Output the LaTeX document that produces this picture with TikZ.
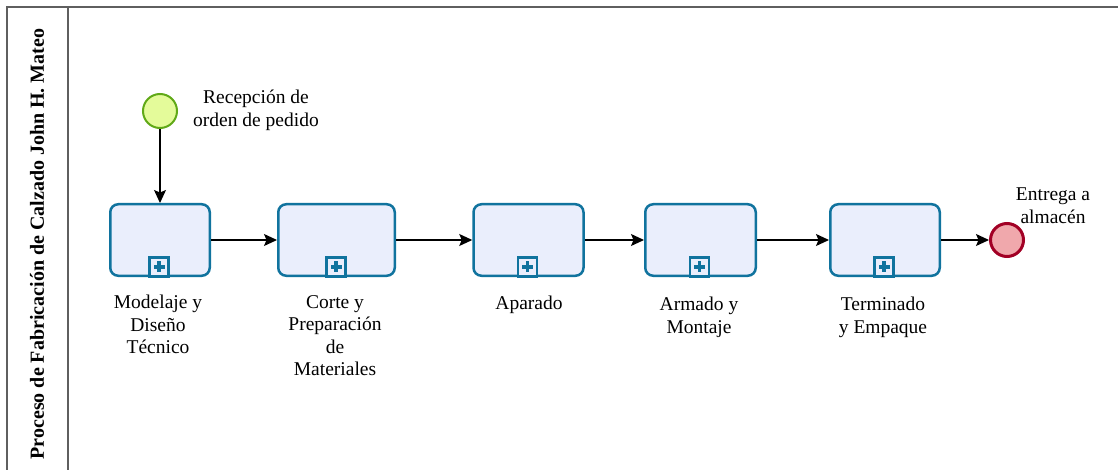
\documentclass[tikz,border=0pt]{standalone}
\usepackage{fontspec}
\setmainfont{Liberation Serif}
\usetikzlibrary{arrows.meta}
\definecolor{taskfill}{HTML}{EAEEFC}
\definecolor{taskline}{HTML}{10739E}
\definecolor{startfill}{HTML}{E4FB9A}
\definecolor{startline}{HTML}{60A917}
\definecolor{endfill}{HTML}{F0A8AC}
\definecolor{endline}{HTML}{A20025}
\definecolor{poolline}{HTML}{5F5F5F}
\begin{document}
\begin{tikzpicture}[x=1pt,y=-1pt,
  task/.style={draw=taskline, fill=taskfill, line width=2.5pt, rounded corners=8pt,
    minimum height=71.5pt, inner sep=0pt},
  marker/.style={draw=taskline, fill=taskfill, line width=2.2pt, minimum size=19pt,
    inner sep=0pt, anchor=south,
    path picture={
      \fill[taskline] ([xshift=-5.5pt,yshift=-1.9pt]path picture bounding box.center)
        rectangle ([xshift=5.5pt,yshift=1.9pt]path picture bounding box.center);
      \fill[taskline] ([xshift=-1.9pt,yshift=-5.5pt]path picture bounding box.center)
        rectangle ([xshift=1.9pt,yshift=5.5pt]path picture bounding box.center);}},
  lbl/.style={font=\fontsize{19.5}{22.5}\selectfont, align=center, inner sep=0pt, anchor=north},
  flow/.style={draw=black, line width=1.2pt, -{Stealth[length=13pt,width=12pt,inset=2.5pt]}},
  pool/.style={draw=poolline, line width=1.5pt},
  startev/.style={circle, draw=startline, fill=startfill, line width=2pt, minimum size=34pt, inner sep=0pt},
  endev/.style={circle, draw=endline, fill=endfill, line width=3pt, minimum size=33pt, inner sep=0pt}
]
\useasboundingbox (0,0) rectangle (1118,470);
\fill[white] (0,0) rectangle (1118,470);

% pool and lane
\draw[pool] (1118,7) -- (7,7) -- (7,470);
\draw[pool] (68,7) -- (68,470);
\node[rotate=90, font=\bfseries\fontsize{20}{24}\selectfont, inner sep=0pt] (lane) at (37,244)
  {Proceso de Fabricación de Calzado John H. Mateo};

% events
\node[startev] (start) at (160,111) {};
\node[lbl] (startlbl) at (256,90) {Recepción de\\orden de pedido};
\node[endev] (end) at (1007,240) {};
\node[lbl] (endlbl) at (1053,188) {Entrega a\\almacén};

% tasks
\node[task, minimum width=99.5pt] (t1) at (160,240) {};
\node[task, minimum width=116.5pt] (t2) at (336.5,240) {};
\node[task, minimum width=110pt] (t3) at (528.5,240) {};
\node[task, minimum width=110.5pt] (t4) at (700.5,240) {};
\node[task, minimum width=109.5pt] (t5) at (885,240) {};

\node[marker] (m1) at ([xshift=-1pt,yshift=-0.5pt]t1.south) {};
\node[marker] (m2) at ([xshift=-0.5pt,yshift=-0.5pt]t2.south) {};
\node[marker] (m3) at ([xshift=-1pt,yshift=-0.5pt]t3.south) {};
\node[marker] (m4) at ([xshift=-1pt,yshift=-0.5pt]t4.south) {};
\node[marker] (m5) at ([xshift=-1pt,yshift=-0.5pt]t5.south) {};

% task labels
\node[lbl] (l1) at (158,295) {Modelaje y\\Diseño\\Técnico};
\node[lbl] (l2) at (335,295) {Corte y\\Preparación\\de\\Materiales};
\node[lbl] (l3) at (529,296) {Aparado};
\node[lbl] (l4) at (699,297) {Armado y\\Montaje};
\node[lbl] (l5) at (883,297) {Terminado\\y Empaque};

% flows
\draw[flow] (start) -- (t1);
\draw[flow] (t1) -- (t2);
\draw[flow] (t2) -- (t3);
\draw[flow] (t3) -- (t4);
\draw[flow] (t4) -- (t5);
\draw[flow] (t5) -- (end);
\end{tikzpicture}
\end{document}
